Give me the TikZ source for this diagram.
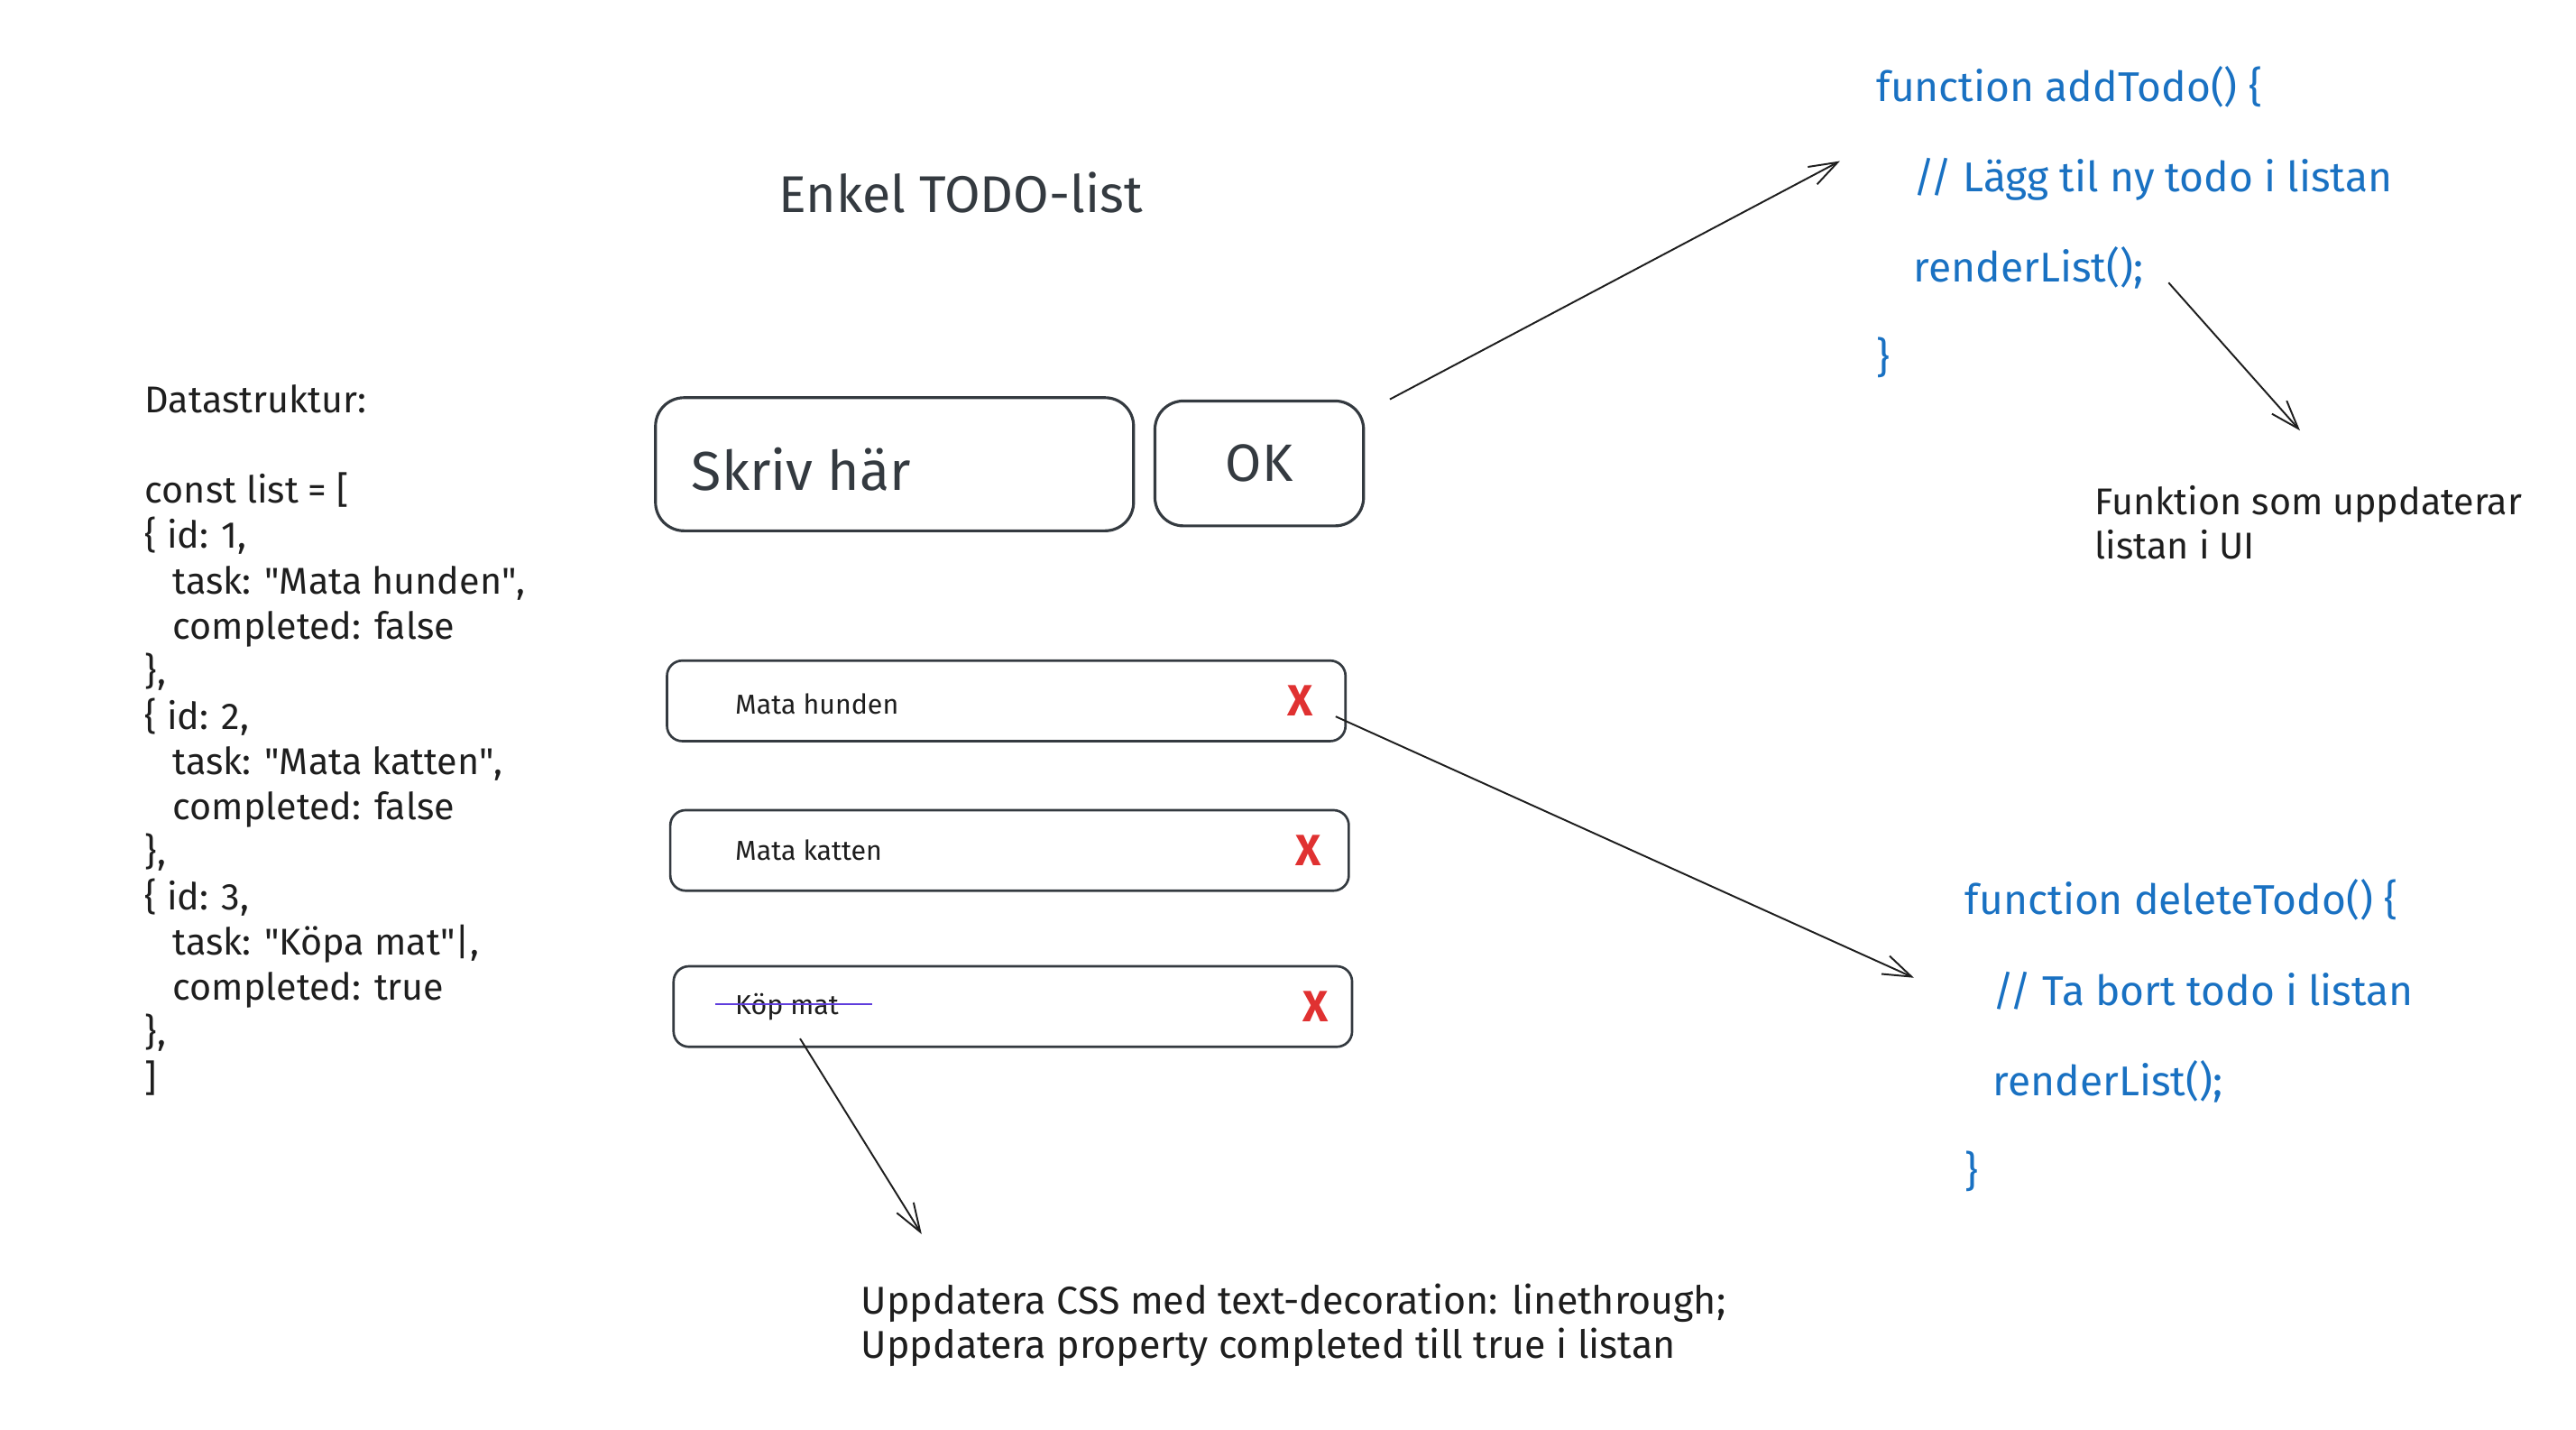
\documentclass[tikz,border=0pt]{standalone}
\usepackage{fontspec}
\setmainfont{Fira Sans}
\usetikzlibrary{arrows.meta}

\definecolor{ink}{RGB}{30,30,30}
\definecolor{boxline}{RGB}{52,58,64}
\definecolor{codeblue}{RGB}{25,113,194}
\definecolor{xred}{RGB}{224,49,49}
\definecolor{strike}{RGB}{95,61,220}

\begin{document}
\begin{tikzpicture}[x=0.75pt,y=0.75pt,yscale=-1,xscale=1,
  inputbox/.style={draw=boxline,line width=1.3pt,rounded corners=13pt,inner sep=0pt},
  itembox/.style={draw=boxline,line width=1.1pt,rounded corners=7pt,inner sep=0pt,minimum width=309.75pt,minimum height=36.75pt},
  itemtext/.style={anchor=west,inner sep=0pt,text=ink,font=\fontsize{12.5}{14}\selectfont},
  delmark/.style={inner sep=0pt,text=xred,font=\fontsize{20}{20}\selectfont\bfseries},
  plaintext/.style={inner sep=0pt,text=ink,align=left},
  codetext/.style={inner sep=0pt,text=codeblue,align=left,font=\fontsize{19}{41.25}\selectfont},
  sketcharrow/.style={draw=ink,line width=0.8pt,-{Straight Barb[length=13pt,width=9pt]}}]
\useasboundingbox (0,0) rectangle (1568,869.7);

% Title
\node (title) at (474,117) [anchor=west,inner sep=0pt,text=boxline,font=\fontsize{23.6}{28}\selectfont] {Enkel TODO-list};

% Text Node: data structure
\node (data) at (88,234) [anchor=north west,plaintext,font=\fontsize{17}{20.625}\selectfont] {Datastruktur:\\[20.625pt]
const list = [\\
\{ id: 1,\\
\hspace*{12.75pt}task: \textquotedbl Mata hunden\textquotedbl,\\
\hspace*{12.75pt}completed: false\\
\},\\
\{ id: 2,\\
\hspace*{12.75pt}task: \textquotedbl Mata katten\textquotedbl,\\
\hspace*{12.75pt}completed: false\\
\},\\
\{ id: 3,\\
\hspace*{12.75pt}task: \textquotedbl Köpa mat\textquotedbl|,\\
\hspace*{12.75pt}completed: true\\
\},\\
]};

%Shape: input field and button
\node (input) at (544.5,282.5) [inputbox,minimum width=218.25pt,minimum height=60.75pt] {};
\node (inputtext) at ([xshift=17pt,yshift=2.5pt]input.west) [anchor=west,inner sep=0pt,text=boxline,font=\fontsize{25}{28}\selectfont] {Skriv här};
\node (ok) at (766.5,282) [inputbox,minimum width=95.25pt,minimum height=57pt,text=boxline,font=\fontsize{24}{28}\selectfont] {OK};

%Shape: todo items
\node (item1) at (612.5,426.5) [itembox] {};
\node (item1text) at ([xshift=31.5pt,yshift=1.5pt]item1.west) [itemtext] {Mata hunden};
\node (item1x) at ([xshift=-21pt]item1.east) [delmark] {X};

\node (item2) at (614.5,517.5) [itembox] {};
\node (item2text) at ([xshift=30pt]item2.west) [itemtext] {Mata katten};
\node (item2x) at ([xshift=-19pt]item2.east) [delmark] {X};

\node (item3) at (616.5,612.5) [itembox] {};
\node (item3text) at ([xshift=28.5pt]item3.west) [itemtext] {Köp mat};
\node (item3x) at ([xshift=-17pt]item3.east) [delmark] {X};
\draw [strike,line width=1pt] ([xshift=-9pt,yshift=-1pt]item3text.west) -- ([xshift=15pt,yshift=-1pt]item3text.east);

% Text Node: addTodo
\node (addfn) at (1142,40) [anchor=north west,codetext] {function addTodo() \{\\
\hspace*{17pt}// Lägg til ny todo i listan\\
\hspace*{17pt}renderList();\\
\}};

% Text Node
\node (render) at (1275,295) [anchor=north west,plaintext,font=\fontsize{17}{20.25}\selectfont] {Funktion som uppdaterar\\listan i UI};

% Text Node: deleteTodo
\node (delfn) at (1196,535) [anchor=north west,codetext] {function deleteTodo() \{\\
\hspace*{12.75pt}// Ta bort todo i listan\\
\hspace*{12.75pt}renderList();\\
\}};

% Text Node
\node (cssnote) at (524,781) [anchor=north west,plaintext,font=\fontsize{17.7}{20.25}\selectfont] {Uppdatera CSS med text-decoration: linethrough;\\Uppdatera property completed till true i listan};

%Arrows
\coordinate (okout) at (846,243);
\coordinate (addin) at (1120,98);
\coordinate (renderout) at (1320,172);
\coordinate (renderin) at (1400,262);
\coordinate (delout) at (813,436);
\coordinate (delin) at (1165,595);
\coordinate (doneout) at (487,632);
\coordinate (donein) at (561,751);
\draw [sketcharrow] (okout) -- (addin);
\draw [sketcharrow] (renderout) -- (renderin);
\draw [sketcharrow] (delout) -- (delin);
\draw [sketcharrow] (doneout) -- (donein);

\end{tikzpicture}
\end{document}
